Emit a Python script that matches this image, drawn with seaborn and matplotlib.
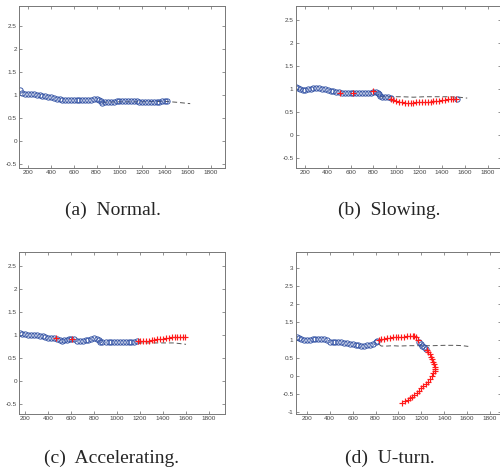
import numpy as np
import pandas as pd
import seaborn as sns
import matplotlib
matplotlib.use('Agg')
import matplotlib.pyplot as plt

#trajectory data (x position, y position)

#(a) normal
a_blue_x = [130, 150, 175, 200, 225, 250, 275, 300, 325, 350,
            375, 400, 425, 450, 475, 500, 525, 550, 575, 600,
            625, 650, 675, 700, 725, 750, 775, 800, 825, 840,
            850, 875, 900, 925, 950, 975, 1000, 1025, 1050, 1075,
            1100, 1125, 1150, 1175, 1200, 1225, 1250, 1275, 1300, 1325,
            1350, 1375, 1400, 1420]
a_blue_y = [1.10, 1.05, 1.03, 1.02, 1.02, 1.01, 1.00, 0.99, 0.98, 0.97,
            0.96, 0.95, 0.94, 0.92, 0.91, 0.89, 0.89, 0.89, 0.88, 0.88,
            0.88, 0.89, 0.88, 0.88, 0.89, 0.90, 0.91, 0.91, 0.90, 0.86,
            0.83, 0.84, 0.84, 0.85, 0.85, 0.86, 0.86, 0.86, 0.86, 0.86,
            0.86, 0.86, 0.86, 0.85, 0.85, 0.85, 0.85, 0.84, 0.84, 0.84,
            0.85, 0.86, 0.87, 0.87]
a_red_x = []
a_red_y = []
a_dash_x = [850, 1000, 1200, 1400, 1500, 1620]
a_dash_y = [0.84, 0.85, 0.85, 0.86, 0.84, 0.81]

#(b) slowing
b_blue_x = [120, 140, 160, 180, 200, 225, 250, 275, 300, 325,
            350, 375, 400, 425, 450, 475, 500, 525, 550, 575,
            600, 625, 650, 675, 700, 725, 750, 775, 800, 820,
            840, 850, 860, 875, 900, 925, 950, 1530]
b_blue_y = [1.05, 1.02, 1.00, 0.99, 0.99, 1.00, 1.01, 1.02, 1.02, 1.02,
            1.01, 1.00, 0.99, 0.97, 0.96, 0.95, 0.94, 0.93, 0.93, 0.92,
            0.93, 0.93, 0.93, 0.92, 0.92, 0.92, 0.93, 0.93, 0.95, 0.95,
            0.92, 0.89, 0.86, 0.84, 0.84, 0.83, 0.82, 0.79]
b_red_x = [510, 620, 800,
           950, 975, 1000, 1025, 1050, 1075, 1100, 1125, 1150, 1175,
           1200, 1225, 1250, 1275, 1300, 1325, 1350, 1375, 1400, 1425,
           1450, 1475, 1500, 1520]
b_red_y = [0.93, 0.92, 0.96,
           0.80, 0.77, 0.75, 0.73, 0.72, 0.71, 0.71, 0.71, 0.71, 0.72,
           0.72, 0.72, 0.72, 0.73, 0.73, 0.74, 0.74, 0.75, 0.76, 0.77,
           0.78, 0.79, 0.79, 0.80]
b_dash_x = [860, 950, 1050, 1150, 1250, 1350, 1450, 1550, 1620]
b_dash_y = [0.84, 0.84, 0.84, 0.83, 0.84, 0.84, 0.84, 0.83, 0.81]

#(c) accelerating
c_blue_x = [150, 175, 200, 225, 250, 275, 300, 325, 350, 375,
            400, 425, 450, 475, 500, 520, 540, 560, 580, 600,
            625, 650, 675, 700, 725, 750, 775, 800, 825, 840,
            855, 870, 900, 925, 950, 975, 1000, 1025, 1050, 1075,
            1100, 1125, 1150, 1175]
c_blue_y = [1.05, 1.03, 1.02, 1.01, 1.00, 1.00, 1.00, 0.99, 0.98, 0.96,
            0.94, 0.93, 0.93, 0.92, 0.90, 0.87, 0.89, 0.90, 0.91, 0.92,
            0.91, 0.88, 0.88, 0.88, 0.89, 0.90, 0.92, 0.93, 0.92, 0.90,
            0.86, 0.85, 0.85, 0.85, 0.85, 0.85, 0.86, 0.86, 0.86, 0.86,
            0.86, 0.86, 0.86, 0.87]
c_red_x = [470, 610,
           1180, 1200, 1225, 1250, 1275, 1300, 1325, 1350, 1375, 1400,
           1425, 1450, 1475, 1500, 1525, 1550, 1575, 1590]
c_red_y = [0.94, 0.92,
           0.87, 0.87, 0.87, 0.87, 0.88, 0.89, 0.90, 0.91, 0.92, 0.92,
           0.93, 0.94, 0.95, 0.96, 0.96, 0.95, 0.95, 0.95]
c_dash_x = [1180, 1300, 1400, 1500, 1600]
c_dash_y = [0.83, 0.83, 0.83, 0.83, 0.80]

#(d) u-turn
d_blue_x = [110, 130, 150, 175, 200, 225, 250, 275, 300, 325,
            350, 375, 400, 425, 450, 475, 500, 525, 550, 575,
            600, 625, 650, 675, 700, 725, 750, 775, 800, 815,
            1180, 1195, 1210, 1225, 1240]
d_blue_y = [1.08, 1.05, 1.02, 1.01, 1.00, 1.01, 1.02, 1.03, 1.03, 1.03,
            1.02, 1.00, 0.93, 0.93, 0.94, 0.94, 0.93, 0.92, 0.91, 0.90,
            0.89, 0.86, 0.85, 0.84, 0.84, 0.85, 0.87, 0.90, 0.93, 0.96,
            0.93, 0.88, 0.84, 0.80, 0.76]
d_red_x = [830, 850, 870, 900, 925, 950, 975, 1000, 1025, 1050,
           1075, 1100, 1125, 1140, 1155, 1170,
           1250, 1262, 1275, 1285, 1293, 1302, 1310, 1316, 1320, 1318,
           1305, 1290, 1272, 1255, 1237, 1218, 1200, 1180, 1160, 1140,
           1120, 1100, 1080, 1055, 1030]
d_red_y = [1.00, 1.02, 1.04, 1.05, 1.06, 1.07, 1.08, 1.08, 1.08, 1.09,
           1.10, 1.11, 1.12, 1.12, 1.08, 1.00,
           0.72, 0.66, 0.60, 0.53, 0.46, 0.39, 0.32, 0.26, 0.20, 0.14,
           0.07, 0.00, -0.08, -0.16, -0.23, -0.29, -0.35, -0.41, -0.47, -0.53,
           -0.58, -0.63, -0.67, -0.71, -0.75]
d_dash_x = [830, 850, 900, 950, 1000, 1100, 1200, 1300, 1400, 1500, 1560, 1610]
d_dash_y = [0.88, 0.83, 0.83, 0.84, 0.83, 0.84, 0.84, 0.84, 0.85, 0.85, 0.84, 0.82]

captions = ['(a)  Normal.', '(b)  Slowing.', '(c)  Accelerating.', '(d)  U-turn.']
x_ticks = [200, 400, 600, 800, 1000, 1200, 1400, 1600, 1800]
y_ticks_abc = [-0.5, 0, 0.5, 1, 1.5, 2, 2.5]
y_ticks_d = [-1, -0.5, 0, 0.5, 1, 1.5, 2, 2.5, 3]

blue = '#2f4fa3'
red = '#ff1a1a'

sns.set_style('white')
plt.rcParams['font.family'] = ['Liberation Sans', 'DejaVu Sans']

fig = plt.figure(figsize=(5.0, 4.72), dpi=100)

#axes rectangles in figure fraction, limits per panel, caption centre
panels = [
    dict(rect=[0.038, 0.644, 0.412, 0.343], xlim=(120, 1925), ylim=(-0.59, 2.93), yt=y_ticks_abc,
         blue=(a_blue_x, a_blue_y), red=(a_red_x, a_red_y), dash=(a_dash_x, a_dash_y),
         cap=(0.225, 0.555)),
    dict(rect=[0.591, 0.645, 0.412, 0.342], xlim=(118, 1920), ylim=(-0.70, 2.81), yt=y_ticks_abc,
         blue=(b_blue_x, b_blue_y), red=(b_red_x, b_red_y), dash=(b_dash_x, b_dash_y),
         cap=(0.778, 0.555)),
    dict(rect=[0.038, 0.1235, 0.412, 0.343], xlim=(145, 1940), ylim=(-0.70, 2.80), yt=y_ticks_abc,
         blue=(c_blue_x, c_blue_y), red=(c_red_x, c_red_y), dash=(c_dash_x, c_dash_y),
         cap=(0.224, 0.028)),
    dict(rect=[0.591, 0.123, 0.412, 0.3425], xlim=(101, 1900), ylim=(-1.06, 3.44), yt=y_ticks_d,
         blue=(d_blue_x, d_blue_y), red=(d_red_x, d_red_y), dash=(d_dash_x, d_dash_y),
         cap=(0.780, 0.028)),
]

for p, cap in zip(panels, captions):
    ax = fig.add_axes(p['rect'])
    #predicted path
    sns.lineplot(x=p['dash'][0], y=p['dash'][1], sort=False, ax=ax,
                 color='#555555', linestyle=(0, (5, 3)), linewidth=0.7)
    #observed points: normal (circles) and abnormal (crosses)
    sns.lineplot(x=p['blue'][0], y=p['blue'][1], sort=False, ax=ax, estimator=None,
                 linestyle='', marker='o', markersize=3.8, mfc='none', mec=blue,
                 mew=0.65, color=blue)
    if len(p['red'][0]):
        sns.lineplot(x=p['red'][0], y=p['red'][1], sort=False, ax=ax, estimator=None,
                     linestyle='', marker='+', markersize=4.0, mec=red,
                     mew=0.85, color=red)
    ax.set_xlim(*p['xlim'])
    ax.set_ylim(*p['ylim'])
    ax.set_xticks(x_ticks)
    ax.set_yticks(p['yt'])
    ax.set_yticklabels([f'{v:g}' for v in p['yt']])
    ax.tick_params(direction='in', length=2, width=0.5, labelsize=4.6,
                   labelcolor='#444444', color='#666666', pad=1.5,
                   top=True, right=True, bottom=True, left=True)
    for s in ax.spines.values():
        s.set_color('#777777')
        s.set_linewidth(0.7)
    ax.set_xlabel('')
    ax.set_ylabel('')
    #caption below the panel
    fig.text(p['cap'][0], p['cap'][1], cap, ha='center', va='center', fontsize=14,
             family=['Liberation Serif', 'DejaVu Serif'])

fig.savefig('out.png', dpi=100)
